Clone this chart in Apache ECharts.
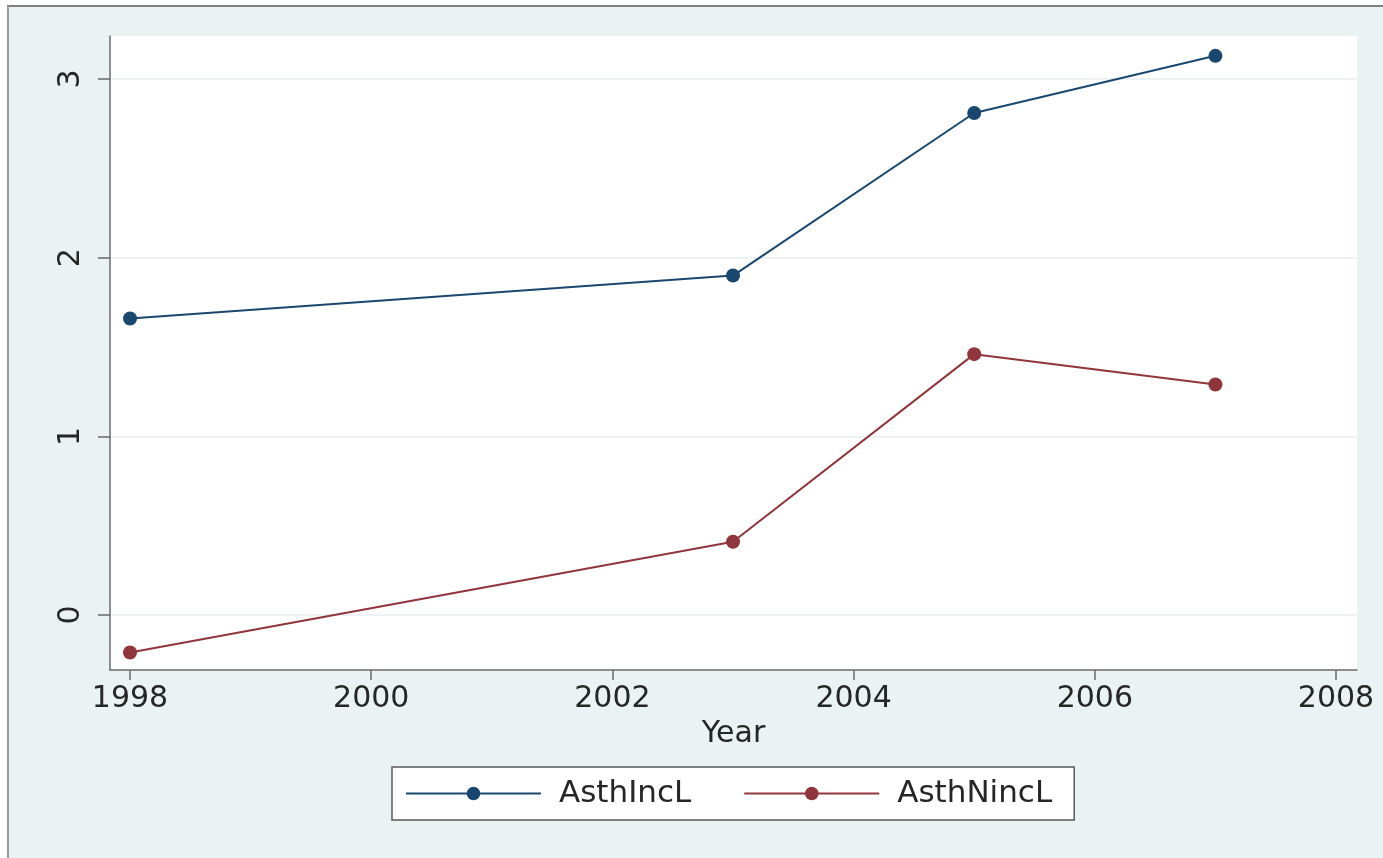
<!DOCTYPE html>
<html>
<head>
<meta charset="utf-8">
<script src="https://cdn.jsdelivr.net/npm/echarts@6/dist/echarts.min.js"></script>
<style>
  html, body { margin: 0; padding: 0; background: #ffffff; }
  #chart { width: 1383px; height: 858px; }
</style>
</head>
<body>
<div id="chart"></div>
<script>
// Survey years and the two asthma series
const years = [1998, 2003, 2005, 2007];
const asthIncL = [1.66, 1.90, 2.81, 3.13];
const asthNincL = [-0.21, 0.41, 1.46, 1.29];
const seriesNames = ['AsthIncL', 'AsthNincL'];

// Tick labels shown on the axes
const xTicks = [1998, 2000, 2002, 2004, 2006, 2008];
const yTicks = [0, 1, 2, 3];

const FONT = 'DejaVu Sans';
const TEXT = '#262626';
const AXIS = '#6b6b6b';

const pairs = (xs, ys) => xs.map((x, i) => [x, ys[i]]);

const chart = echarts.init(document.getElementById('chart'), null, { renderer: 'canvas' });

chart.setOption({
  backgroundColor: '#ffffff',
  animation: false,
  textStyle: { fontFamily: FONT },
  graphic: [
    // light outer panel and its frame
    { type: 'rect', z: -10, silent: true,
      shape: { x: 8, y: 6, width: 1383, height: 860 },
      style: { fill: '#eaf2f3' } },
    { type: 'line', z: -9, silent: true,
      shape: { x1: 7, y1: 6, x2: 1383, y2: 6 },
      style: { stroke: '#7d7d7d', lineWidth: 2 } },
    { type: 'line', z: -9, silent: true,
      shape: { x1: 8, y1: 6, x2: 8, y2: 858 },
      style: { stroke: '#9a9a9a', lineWidth: 2 } }
  ],
  grid: {
    left: 110, right: 26, top: 36, bottom: 188,
    show: true, backgroundColor: '#ffffff', borderWidth: 0,
    containLabel: false
  },
  legend: {
    data: seriesNames,
    left: 392, top: 767,
    orient: 'horizontal',
    backgroundColor: '#ffffff',
    borderColor: '#5a5a5a', borderWidth: 1.5, borderRadius: 0,
    padding: [11, 22, 11, 13],
    itemWidth: 135, itemHeight: 17, itemGap: 52,
    textStyle: { fontFamily: FONT, fontSize: 31, color: TEXT, padding: [0, 0, 0, 13] }
  },
  xAxis: {
    type: 'value',
    min: 1997.834, max: 2008.174,
    name: 'Year',
    nameLocation: 'middle',
    nameGap: 48,
    nameTextStyle: { fontFamily: FONT, fontSize: 30, color: TEXT },
    axisLine: { show: true, onZero: false, lineStyle: { color: AXIS, width: 1.5 } },
    axisTick: { show: true, length: 10, customValues: xTicks, lineStyle: { color: AXIS, width: 1.5 } },
    axisLabel: { show: true, customValues: xTicks, margin: 14, fontFamily: FONT, fontSize: 30, color: TEXT,
                 formatter: v => String(v) },
    splitLine: { show: false }
  },
  yAxis: {
    type: 'value',
    min: -0.308, max: 3.241,
    axisLine: { show: true, onZero: false, lineStyle: { color: AXIS, width: 1.5 } },
    axisTick: { show: true, length: 12, customValues: yTicks, lineStyle: { color: AXIS, width: 1.5 } },
    axisLabel: { show: true, customValues: yTicks, rotate: 90, margin: 24, fontFamily: FONT, fontSize: 30, color: TEXT,
                 formatter: v => String(v) },
    splitLine: { show: true, lineStyle: { color: '#edf3f4', width: 2 } }
  },
  series: [
    {
      name: seriesNames[0], type: 'line',
      data: pairs(years, asthIncL),
      symbol: 'circle', symbolSize: 14, showSymbol: true,
      lineStyle: { color: '#1a476f', width: 2 },
      itemStyle: { color: '#1a476f' },
      color: '#1a476f'
    },
    {
      name: seriesNames[1], type: 'line',
      data: pairs(years, asthNincL),
      symbol: 'circle', symbolSize: 14, showSymbol: true,
      lineStyle: { color: '#90353b', width: 2 },
      itemStyle: { color: '#90353b' },
      color: '#90353b'
    }
  ]
});
</script>
</body>
</html>
